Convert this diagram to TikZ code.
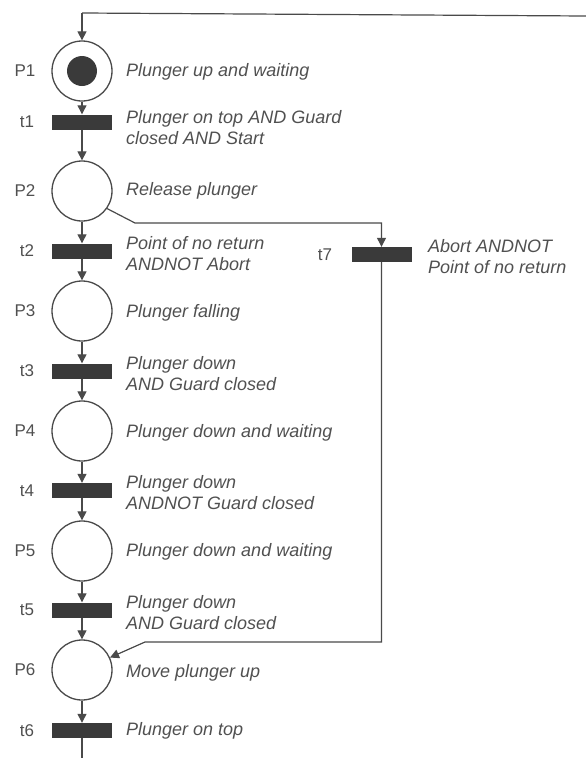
\documentclass[tikz,border=0pt]{standalone}
\usepackage{fontspec}
\setmainfont{Liberation Sans}
\usetikzlibrary{arrows.meta}
\definecolor{ink}{HTML}{4A4A4A}
\definecolor{barc}{HTML}{3A3A3A}
\definecolor{txt}{HTML}{505050}
\begin{document}
\begin{tikzpicture}[x=1pt,y=-1pt,
 place/.style={circle,draw=ink,line width=1.3pt,minimum size=60pt,inner sep=0pt},
 token/.style={circle,fill=barc,minimum size=30pt,inner sep=0pt},
 trans/.style={rectangle,fill=barc,minimum width=60pt,minimum height=15pt,inner sep=0pt},
 lab/.style={font=\fontsize{17}{20}\selectfont,text=txt},
 desc/.style={font=\fontsize{18}{21}\selectfont\itshape,text=txt,anchor=west,align=left,inner sep=0pt},
 arc/.style={draw=ink,line width=1.2pt,-{Triangle[width=9pt,length=9pt]}},
 wire/.style={draw=ink,line width=1.2pt}]
\useasboundingbox (0,0) rectangle (586,758);
% places and transitions
\node[place] (P1) at (82,71) {};
\node[token] (tok) at (82,71) {};
\node[trans] (t1) at (82,122) {};
\node[place] (P2) at (82,191) {};
\node[trans] (t2) at (82,251) {};
\node[place] (P3) at (82,311) {};
\node[trans] (t3) at (82,371) {};
\node[place] (P4) at (82,431) {};
\node[trans] (t4) at (82,490.5) {};
\node[place] (P5) at (82,551) {};
\node[trans] (t5) at (82,610) {};
\node[place] (P6) at (82,670) {};
\node[trans] (t6) at (82,730.5) {};
\node[trans] (t7) at (381.5,254.5) {};
% helper coordinates
\coordinate (top) at (82,13);
\coordinate (topR) at (586,16);
\coordinate (bot) at (82,758);
\coordinate (b1) at (135,223);
\coordinate (b2) at (381.5,223);
\coordinate (r1) at (381.5,642);
\coordinate (r2) at (145,642);
% connectors
\draw[wire] (topR) -- (top);
\draw[arc] (top) -- (P1);
\draw[arc] (P1) -- (t1);
\draw[arc] (t1) -- (P2);
\draw[arc] (P2) -- (t2);
\draw[arc] (t2) -- (P3);
\draw[arc] (P3) -- (t3);
\draw[arc] (t3) -- (P4);
\draw[arc] (P4) -- (t4);
\draw[arc] (t4) -- (P5);
\draw[arc] (P5) -- (t5);
\draw[arc] (t5) -- (P6);
\draw[arc] (P6) -- (t6);
\draw[wire] (t6) -- (bot);
\draw[arc] (P2.-35) -- (b1) -- (b2) -- (t7);
\draw[arc] (t7) -- (r1) -- (r2) -- (P6);
% labels
\node[lab] (lP1) at (25,71) {P1};
\node[lab] (lt1) at (27,122) {t1};
\node[lab] (lP2) at (25,191) {P2};
\node[lab] (lt2) at (27,251) {t2};
\node[lab] (lP3) at (25,311) {P3};
\node[lab] (lt3) at (27,371) {t3};
\node[lab] (lP4) at (25,431) {P4};
\node[lab] (lt4) at (27,490.5) {t4};
\node[lab] (lP5) at (25,551) {P5};
\node[lab] (lt5) at (27,610) {t5};
\node[lab] (lP6) at (25,670) {P6};
\node[lab] (lt6) at (27,730.5) {t6};
\node[lab] (lt7) at (325,254.5) {t7};
% descriptions
\node[desc] (d1) at (126,72) {Plunger up and waiting};
\node[desc] (d2) at (126,128) {Plunger on top AND Guard\\closed AND Start};
\node[desc] (d3) at (126,191) {Release plunger};
\node[desc] (d4) at (126,254) {Point of no return\\ANDNOT Abort};
\node[desc] (d5) at (126,313) {Plunger falling};
\node[desc] (d6) at (126,374) {Plunger down\\AND Guard closed};
\node[desc] (d7) at (126,433) {Plunger down and waiting};
\node[desc] (d8) at (126,493) {Plunger down\\ANDNOT Guard closed};
\node[desc] (d9) at (126,552) {Plunger down and waiting};
\node[desc] (d10) at (126,612.5) {Plunger down\\AND Guard closed};
\node[desc] (d11) at (126,673) {Move plunger up};
\node[desc] (d12) at (126,731) {Plunger on top};
\node[desc] (d13) at (428,256.5) {Abort ANDNOT\\Point of no return};
\end{tikzpicture}
\end{document}
